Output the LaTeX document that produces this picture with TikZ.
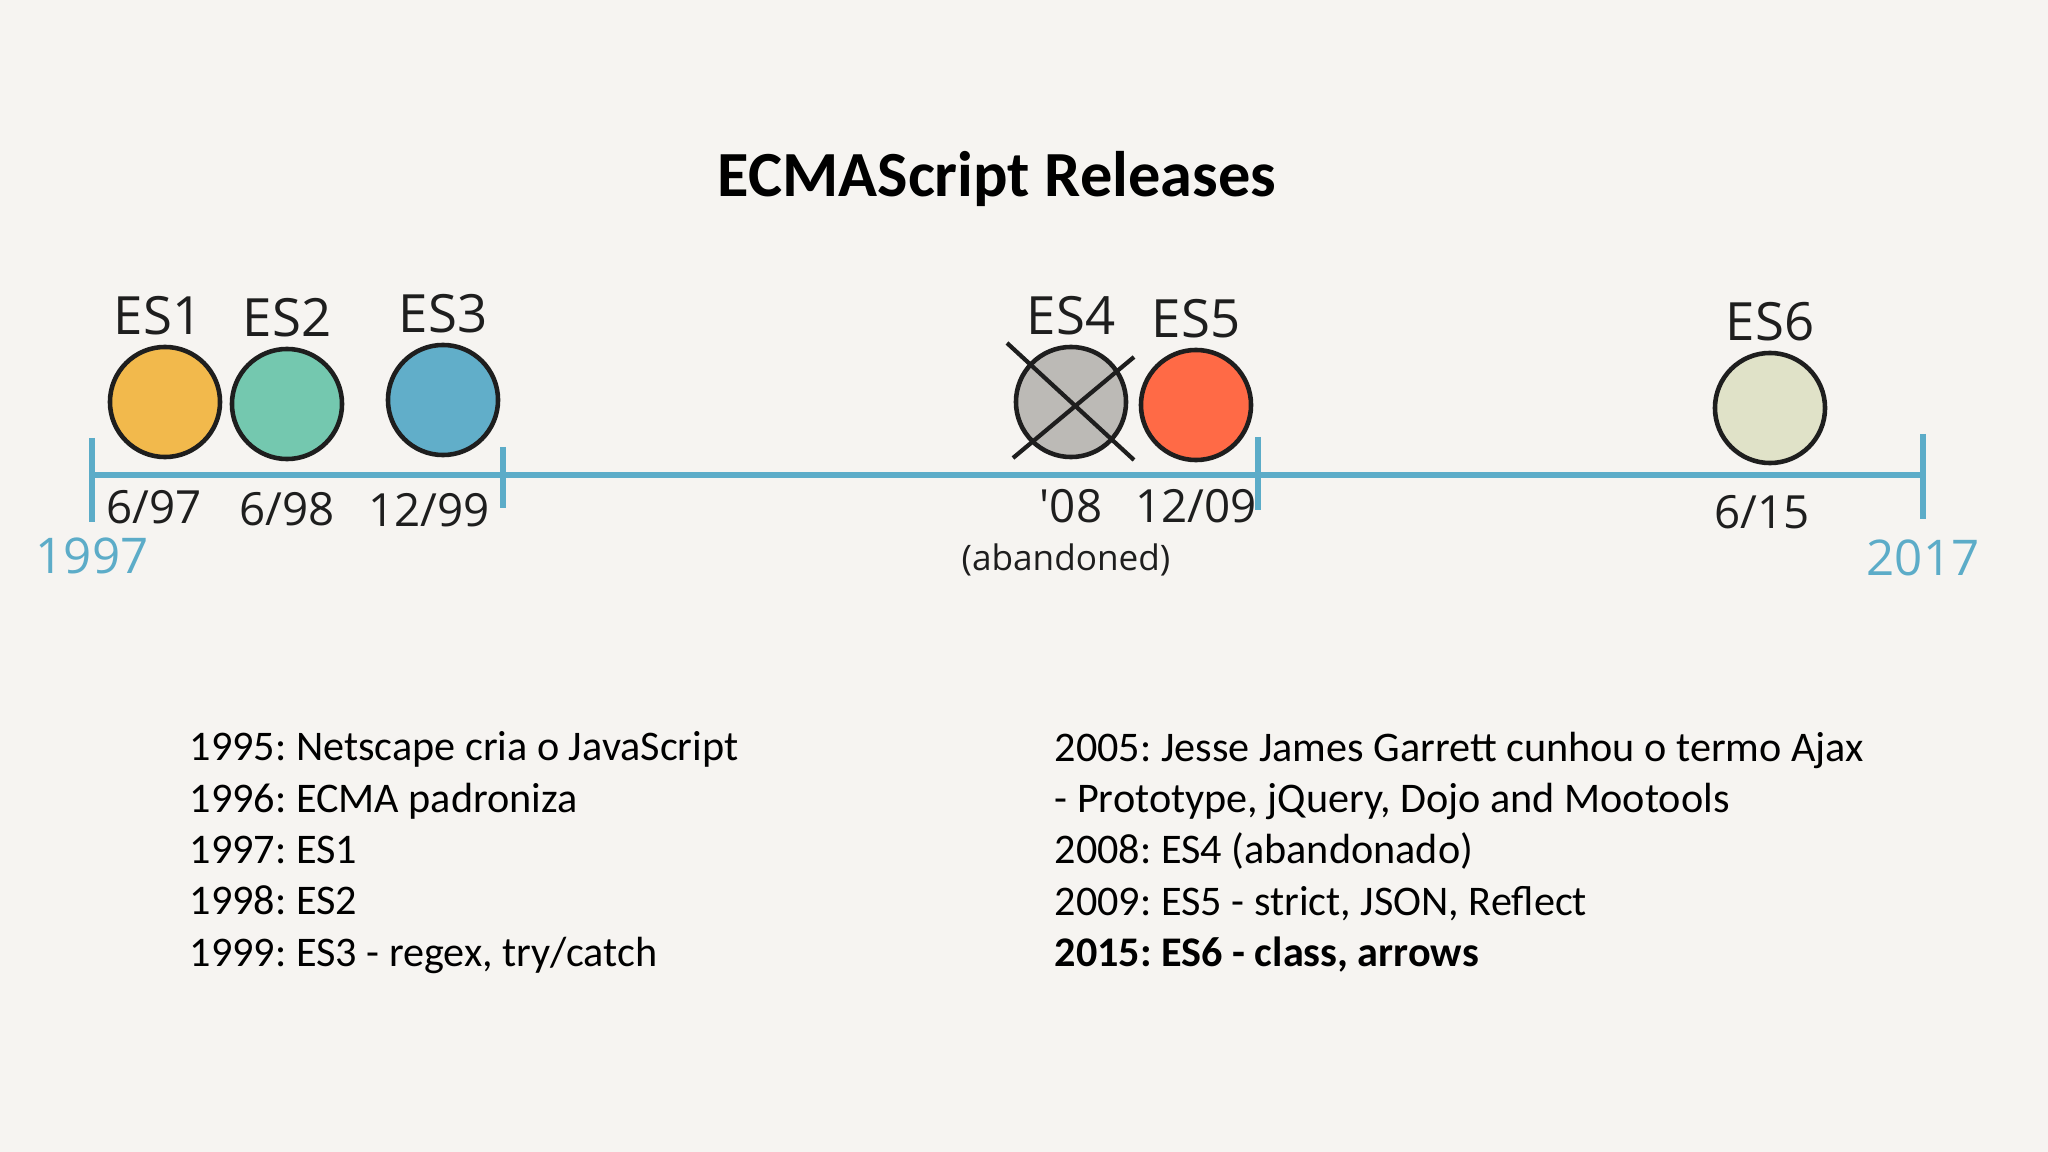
\documentclass[tikz,border=0pt]{standalone}
\usepackage{fontspec}
\setmainfont{Carlito}
\newfontfamily\handfont{Open Sans}
\usepackage{tikz}
\usetikzlibrary{positioning}
\definecolor{bgpaper}{RGB}{246,244,241}
\definecolor{lineblue}{RGB}{92,172,200}
\definecolor{ink}{RGB}{30,30,30}
\definecolor{esonec}{RGB}{242,185,76}
\definecolor{estwoc}{RGB}{116,200,175}
\definecolor{esthreec}{RGB}{97,174,201}
\definecolor{esfourc}{RGB}{188,186,182}
\definecolor{esfivec}{RGB}{255,106,70}
\definecolor{essixc}{RGB}{224,226,200}
\frenchspacing

\begin{document}
\begin{tikzpicture}[x=0.01cm,y=-0.01cm,
    release/.style={circle,draw=ink,line width=1.3pt,minimum size=1.1cm,inner sep=0pt},
    hand/.style={font=\handfont\fontsize{15}{15}\selectfont,text=ink,inner sep=0pt},
    handdate/.style={font=\handfont\fontsize{13}{13}\selectfont,text=ink,inner sep=0pt},
    handyear/.style={font=\handfont\fontsize{14}{14}\selectfont,text=lineblue,inner sep=0pt},
    axis/.style={draw=lineblue,line width=1.5pt},
    notes/.style={font=\fontsize{12}{14.6}\selectfont,align=left,anchor=north west,inner sep=0pt}]
    \fill[bgpaper] (0,0) rectangle (2048,1152);
    \useasboundingbox (0,0) rectangle (2048,1152);

    \node[font=\bfseries\fontsize{18.3}{20}\selectfont,anchor=base] (title) at (997,197) {ECMAScript Releases};

    % timeline
    \coordinate (ax0) at (92,475);
    \coordinate (ax1) at (1920,475);
    \coordinate (k0a) at (92,438);   \coordinate (k0b) at (92,522);
    \coordinate (k1a) at (503,447);  \coordinate (k1b) at (503,508);
    \coordinate (k2a) at (1258,437); \coordinate (k2b) at (1258,510);
    \coordinate (k3a) at (1923,434); \coordinate (k3b) at (1923,519);
    \draw[axis] (ax0) -- (ax1);
    \draw[axis] (k0a) -- (k0b);
    \draw[axis] (k1a) -- (k1b);
    \draw[axis] (k2a) -- (k2b);
    \draw[axis] (k3a) -- (k3b);
    \node[handyear,below=0.15cm of k0b] (yfirst) {1997};
    \node[handyear,below=0.2cm of k3b] (ylast) {2017};

    % releases
    \node[release,fill=esonec] (es1) at (165,402) {};
    \node[release,fill=estwoc] (es2) at (287,404) {};
    \node[release,fill=esthreec] (es3) at (443,400) {};
    \node[release,fill=esfourc] (es4) at (1071,402) {};
    \node[release,fill=esfivec] (es5) at (1196,405) {};
    \node[release,fill=essixc] (es6) at (1770,408) {};
    \draw[ink,line width=1.2pt] ([shift={(-64,-59)}]es4.center) -- ([shift={(63,58)}]es4.center);
    \draw[ink,line width=1.2pt] ([shift={(-58,56)}]es4.center) -- ([shift={(63,-45)}]es4.center);

    \node[hand,above=0.09cm of es1,xshift=-0.07cm] (es1lbl) {ES1};
    \node[hand,above=0.09cm of es2] (es2lbl) {ES2};
    \node[hand,above=0.09cm of es3] (es3lbl) {ES3};
    \node[hand,above=0.09cm of es4] (es4lbl) {ES4};
    \node[hand,above=0.09cm of es5] (es5lbl) {ES5};
    \node[hand,above=0.09cm of es6] (es6lbl) {ES6};

    \node[handdate,below=0.3cm of es1,xshift=-0.11cm] (es1date) {6/97};
    \node[handdate,below=0.3cm of es2] (es2date) {6/98};
    \node[handdate,below=0.35cm of es3,xshift=-0.14cm] (es3date) {12/99};
    \node[handdate,below=0.29cm of es4] (es4date) {'08};
    \node[handdate,font=\handfont\fontsize{10}{10}\selectfont,below=0.2cm of es4date,xshift=-0.05cm] (es4note) {(abandoned)};
    \node[handdate,below=0.26cm of es5] (es5date) {12/09};
    \node[handdate,below=0.29cm of es6,xshift=-0.08cm] (es6date) {6/15};

    % history notes
    \node[notes] (histleft) at (189,731) {1995: Netscape cria o JavaScript\\
      1996: ECMA padroniza\\
      1997: ES1\\
      1998: ES2\\
      1999: ES3 - regex, try/catch};
    \node[notes] (histright) at (1054,731) {2005: Jesse James Garrett cunhou o termo Ajax\\
      - Prototype, jQuery, Dojo and Mootools\\
      2008: ES4 (abandonado)\\
      2009: ES5 - strict, JSON, Reflect\\
      \textbf{2015: ES6 - class, arrows}};
\end{tikzpicture}
\end{document}
